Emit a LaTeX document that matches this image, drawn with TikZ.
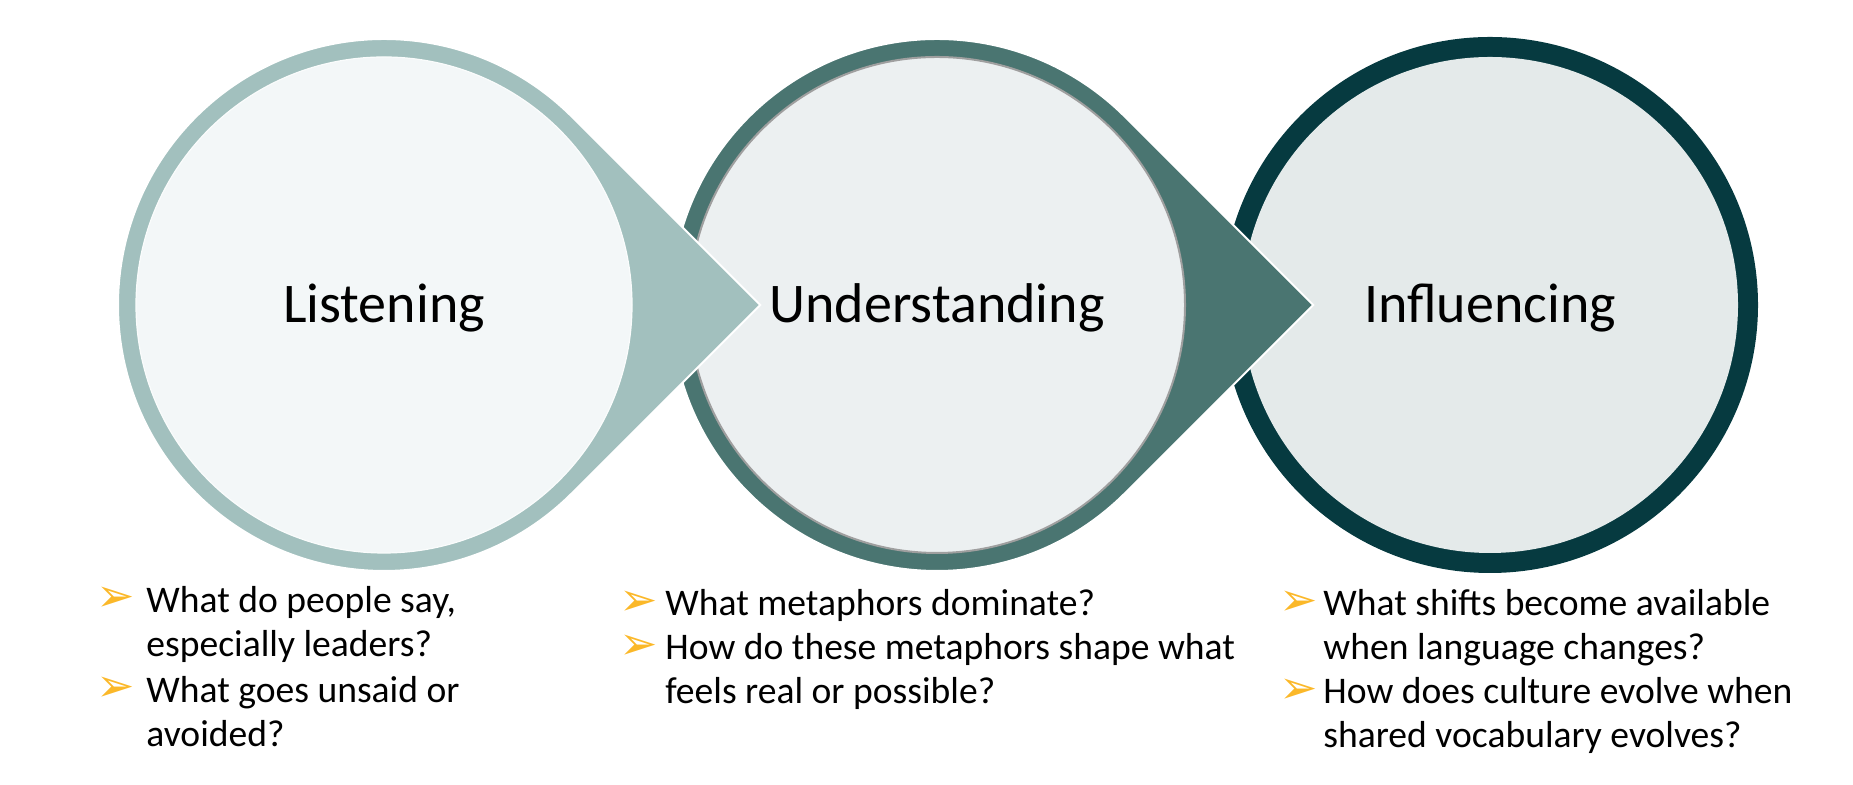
\documentclass[tikz,border=0pt]{standalone}
\usepackage{xcolor}
\usepackage{fontspec}
\setmainfont{Carlito}
\newfontfamily\dingfont{DejaVu Sans}
\usepackage{tikz}
\usetikzlibrary{calc}
\usetikzlibrary{positioning}
\definecolor{ringA}{HTML}{A2C0BE}
\definecolor{ringB}{HTML}{4A7571}
\definecolor{ringC}{HTML}{063A40}
\definecolor{fillA}{HTML}{F3F7F8}
\definecolor{fillB}{HTML}{ECF0F1}
\definecolor{fillC}{HTML}{E4EAEA}
\definecolor{gold}{HTML}{FBB829}
\tikzstyle{inner} = [circle, inner sep = 0pt, minimum size = 248pt]
\tikzstyle{drop} = [draw = white, line width = 1pt]
\tikzstyle{title} = [font = \fontsize{28}{34}\selectfont, anchor = base, inner sep = 0pt]
\tikzstyle{item} = [font = \fontsize{18.8}{22.3}\selectfont, align = left, anchor = base west, inner sep = 0pt]
\tikzstyle{bul} = [font = \dingfont\fontsize{23}{26}\selectfont, text = gold, anchor = base west, inner sep = 0pt]

\begin{document}
\begin{tikzpicture}[x = 0.5pt, y = 0.5pt]
\useasboundingbox (0, 0) rectangle (1853, 785);
\coordinate (C1) at (384, 480);
\coordinate (C2) at (937, 480);
\coordinate (C3) at (1490, 480);
\coordinate (tip1) at ($(C1) + (376.2, 0)$);
\coordinate (tip2) at ($(C2) + (376.2, 0)$);

% third circle
\fill [ringC] (C3) circle [radius = 268];
\node [inner, fill = fillC] (in3) at (C3) {};

% second teardrop
\path [fill = ringB, drop] ($(C2) + (45:266)$) arc [start angle = 45, end angle = 315, radius = 266] -- (tip2) -- cycle;
\node [inner, fill = fillB, draw = gray!75, line width = 1pt] (in2) at (C2) {};

% first teardrop
\path [fill = ringA, drop] ($(C1) + (45:266)$) arc [start angle = 45, end angle = 315, radius = 266] -- (tip1) -- cycle;
\node [inner, fill = fillA, draw = white!60!fillA, line width = 0.6pt] (in1) at (C1) {};

\node [title] (t1) at ($(C1) + (0, -18)$) {Listening};
\node [title] (t2) at ($(C2) + (0, -18)$) {Understanding};
\node [title] (t3) at ($(C3) + (0, -18)$) {Influencing};

% questions (base = last line)
\node [bul] (b1) at (96, 173) {➢};
\node [item] (q1) at (146, 128) {What do people say,\\especially leaders?};
\node [bul] (b2) at (96, 83) {➢};
\node [item] (q2) at (146, 38) {What goes unsaid or\\avoided?};

\node [bul] (b3) at (619, 169) {➢};
\node [item] (q3) at (665, 169) {What metaphors dominate?};
\node [bul] (b4) at (619, 125) {➢};
\node [item] (q4) at (665, 81) {How do these metaphors shape what\\feels real or possible?};

\node [bul] (b5) at (1279, 169) {➢};
\node [item] (q5) at (1323, 125) {What shifts become available\\when language changes?};
\node [bul] (b6) at (1279, 81) {➢};
\node [item] (q6) at (1323, 37) {How does culture evolve when\\shared vocabulary evolves?};
\end{tikzpicture}
\end{document}
